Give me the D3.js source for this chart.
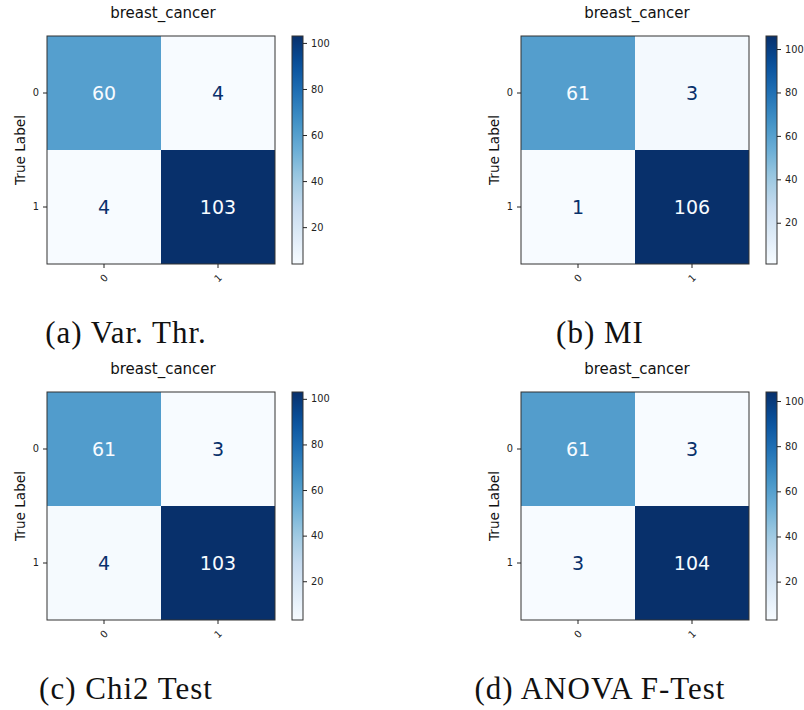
<!DOCTYPE html>
<html lang="en">
<head>
<meta charset="utf-8">
<title>breast_cancer confusion matrices</title>
<script src="https://cdn.jsdelivr.net/npm/d3@7/dist/d3.min.js"></script>
<style>
  body { margin: 0; background: #fff; }
  svg { display: block; }
  .tick text { font-family: "DejaVu Sans", sans-serif; font-size: 9.8px; fill: #222; }
  .tick line { stroke: #222; }
  .domain { display: none; }
  .title { font-family: "DejaVu Sans", sans-serif; font-size: 15px; fill: #111; }
  .ylab { font-family: "DejaVu Sans", sans-serif; font-size: 13.6px; fill: #111; }
  .cellnum { font-family: "DejaVu Sans", sans-serif; font-size: 19px; }
  .caption { font-family: "Liberation Serif", serif; font-size: 31px; letter-spacing: 1px; fill: #111; }
</style>
</head>
<body>
<script>
// data
var classes = ["0", "1"];
var captions = ["(a) Var. Thr.", "(b) MI", "(c) Chi2 Test", "(d) ANOVA F-Test"];
var matVarThr = [[60, 4], [4, 103]];
var matMI = [[61, 3], [1, 106]];
var matChi2 = [[61, 3], [4, 103]];
var matAnova = [[61, 3], [3, 104]];
var cbTicks = [20, 40, 60, 80, 100];
var datasetTitle = "breast_cancer";
var yLabel = "True Label";

// matplotlib "Blues" (linear over the 9 brewer colours)
var blues = ["#f7fbff", "#deebf7", "#c6dbef", "#9ecae1", "#6baed6", "#4292c6", "#2171b5", "#08519c", "#08306b"];

var W = 804, H = 710;
var svg = d3.select("body").append("svg").attr("width", W).attr("height", H);

var panels = [
  { m: matVarThr, x: 47, y: 36, cap: captions[0] },
  { m: matMI, x: 521, y: 36, cap: captions[1] },
  { m: matChi2, x: 47, y: 392, cap: captions[2] },
  { m: matAnova, x: 521, y: 392, cap: captions[3] }
];

var size = 228, cbGap = 17, cbW = 11;

var defs = svg.append("defs");

panels.forEach(function(p, k) {
  var flat = d3.merge(p.m);
  var vmin = d3.min(flat), vmax = d3.max(flat);

  var t = d3.scaleLinear().domain([0, 1]).range([vmin, vmax]);
  var color = d3.scaleLinear()
    .domain(d3.range(blues.length).map(function(i) { return t(i / (blues.length - 1)); }))
    .range(blues)
    .interpolate(d3.interpolateRgb);

  var g = svg.append("g").attr("transform", "translate(" + p.x + "," + p.y + ")");

  var xs = d3.scaleBand().domain(classes).range([0, size]);
  var ys = d3.scaleBand().domain(classes).range([0, size]);

  var cells = [];
  p.m.forEach(function(row, i) {
    row.forEach(function(v, j) { cells.push({ r: classes[i], c: classes[j], v: v }); });
  });

  g.selectAll("rect.cell").data(cells).enter().append("rect")
    .attr("class", "cell")
    .attr("x", function(d) { return xs(d.c); })
    .attr("y", function(d) { return ys(d.r); })
    .attr("width", xs.bandwidth())
    .attr("height", ys.bandwidth())
    .attr("fill", function(d) { return color(d.v); });

  var thresh = (vmin + vmax) / 2;
  g.selectAll("text.cellnum").data(cells).enter().append("text")
    .attr("class", "cellnum")
    .attr("x", function(d) { return xs(d.c) + xs.bandwidth() / 2; })
    .attr("y", function(d) { return ys(d.r) + ys.bandwidth() / 2; })
    .attr("text-anchor", "middle")
    .attr("dy", "0.36em")
    .attr("fill", function(d) { return d.v < thresh ? blues[8] : blues[0]; })
    .text(function(d) { return d.v; });

  g.append("rect")
    .attr("width", size).attr("height", size)
    .attr("fill", "none").attr("stroke", "#333").attr("stroke-width", 1);

  // axes
  g.append("g").call(d3.axisLeft(ys).tickSize(4).tickPadding(4));
  var xa = g.append("g").attr("transform", "translate(0," + size + ")")
    .call(d3.axisBottom(xs).tickSize(4).tickPadding(4));
  xa.selectAll("text")
    .attr("y", 0).attr("dy", 0)
    .attr("transform", "translate(0,14) rotate(-45)")
    .attr("text-anchor", "middle")
    .attr("dominant-baseline", "central");

  g.append("text").attr("class", "title")
    .attr("x", size / 2 + 2).attr("y", -18)
    .attr("text-anchor", "middle")
    .text(datasetTitle);

  g.append("text").attr("class", "ylab")
    .attr("transform", "translate(-27," + (size / 2) + ") rotate(-90)")
    .attr("text-anchor", "middle")
    .attr("dy", "0.35em")
    .text(yLabel);

  // colorbar
  var gradId = "cb" + k;
  var grad = defs.append("linearGradient").attr("id", gradId)
    .attr("x1", 0).attr("y1", 1).attr("x2", 0).attr("y2", 0);
  d3.range(0, 1.0001, 0.05).forEach(function(s) {
    grad.append("stop").attr("offset", s).attr("stop-color", color(t(s)));
  });

  var cb = g.append("g").attr("transform", "translate(" + (size + cbGap) + ",0)");
  cb.append("rect").attr("width", cbW).attr("height", size)
    .attr("fill", "url(#" + gradId + ")")
    .attr("stroke", "#333").attr("stroke-width", 1);
  var cs = d3.scaleLinear().domain([vmin, vmax]).range([size, 0]);
  cb.append("g").attr("transform", "translate(" + cbW + ",0)")
    .call(d3.axisRight(cs).tickValues(cbTicks).tickSize(4).tickPadding(4));

  // caption
  svg.append("text").attr("class", "caption")
    .attr("x", p.x + 79).attr("y", p.y + 307)
    .attr("text-anchor", "middle")
    .text(p.cap);
});
</script>
</body>
</html>
